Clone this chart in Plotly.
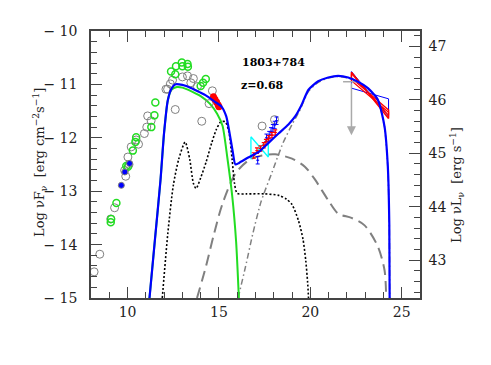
import plotly.graph_objects as go

# ---------------- data ----------------
# total model (blue)
total_x = [11.2, 11.5, 11.8, 12.0, 12.2, 12.4, 12.6, 13.0, 13.5, 13.9, 14.3, 14.8, 15.15, 15.4, 15.6, 15.75, 15.9,
           16.1, 16.6, 17.2, 17.7, 18.26, 18.8, 19.17, 19.5, 19.9, 20.43, 20.98, 21.52, 22.07, 22.61, 23.15, 23.7,
           24.06, 24.24, 24.32, 24.34]
total_y = [-15.0, -13.9, -12.8, -11.9, -11.3, -11.08, -11.0, -11.01, -11.07, -11.14, -11.21, -11.33, -11.42, -11.6,
           -11.95, -12.25, -12.5, -12.47, -12.37, -12.26, -12.1, -11.92, -11.75, -11.6, -11.4, -11.1, -10.94,
           -10.87, -10.84, -10.87, -10.95, -11.07, -11.29, -11.79, -12.54, -13.6, -15.0]

# synchrotron (green)
sync_x = [11.2, 11.5, 11.8, 12.0, 12.2, 12.4, 12.7, 13.0, 13.5, 14.0, 14.5, 14.9, 15.2, 15.45, 15.73, 15.94, 16.09]
sync_y = [-15.0, -13.9, -12.8, -11.9, -11.3, -11.1, -11.05, -11.06, -11.13, -11.22, -11.36, -11.55, -11.78, -12.35,
          -13.1, -13.95, -15.0]

# torus + disk + corona (black dotted)
disk_x = [11.9, 12.2, 12.5, 12.8, 13.15, 13.4, 13.6, 13.75, 14.0, 14.3, 14.6, 14.85, 15.1, 15.35, 15.55, 15.72,
          15.85, 16.0, 16.5, 17.5, 18.3, 18.7, 19.0, 19.35, 19.6, 19.75, 19.85, 19.9]
disk_y = [-15.0, -13.8, -12.9, -12.4, -12.08, -12.4, -12.85, -12.95, -12.75, -12.45, -12.1, -11.85, -11.7, -11.7,
          -11.9, -12.4, -12.85, -13.04, -13.05, -13.05, -13.08, -13.15, -13.25, -13.55, -13.9, -14.3, -14.7, -15.0]

# SSC (grey dashed)
ssc_x = [13.8, 14.28, 14.73, 15.18, 15.9, 16.63, 17.35, 18.08, 19.0, 19.7, 20.25, 20.98, 21.52, 22.25, 22.97,
         23.7, 24.06, 24.15]
ssc_y = [-15.0, -14.42, -13.8, -13.25, -12.67, -12.42, -12.33, -12.31, -12.39, -12.54, -12.78, -13.17, -13.42,
         -13.5, -13.64, -14.04, -14.48, -15.0]

# external Compton (grey dash-dot)
ec_x = [16.05, 16.45, 16.85, 17.3, 17.9, 18.5, 19.0, 19.4, 19.9, 20.43, 20.98, 21.52, 22.07, 22.61, 23.15, 23.7,
        24.06, 24.24, 24.32, 24.34]
ec_y = [-15.0, -14.42, -13.8, -13.2, -12.65, -12.1, -11.75, -11.5, -11.13, -10.96, -10.88, -10.85, -10.88, -10.96,
        -11.08, -11.3, -11.8, -12.55, -13.6, -15.0]

# archival data (grey open circles)
grey_x = [8.17, 8.48, 9.08, 9.29, 9.84, 9.9, 10.02, 10.08, 10.2, 10.47, 10.6, 10.92, 11.05, 11.1, 11.29, 12.1,
          12.19, 12.34, 12.46, 12.61, 13.0, 13.28, 13.46, 13.6, 13.82, 14.06, 14.46, 14.64, 17.36, 18.04]
grey_y = [-14.51, -14.18, -13.52, -13.31, -12.61, -12.72, -12.36, -12.5, -12.17, -12.04, -12.12, -11.92, -11.8,
          -11.59, -11.68, -11.09, -11.09, -10.99, -10.92, -11.47, -10.86, -10.84, -10.97, -10.89, -11.04, -11.69,
          -11.36, -11.12, -11.78, -11.66]

# simultaneous data (green open circles)
green_x = [9.08, 9.1, 9.39, 9.93, 10.02, 10.29, 10.43, 10.47, 11.3, 11.47, 11.52, 12.38, 12.61, 12.65, 12.97,
           13.0, 13.28, 13.3, 14.0, 14.13, 14.28]
green_y = [-13.58, -13.52, -13.22, -12.53, -12.54, -12.24, -12.08, -11.99, -11.8, -11.58, -11.34, -10.76, -10.81,
           -10.66, -10.59, -10.66, -10.62, -10.67, -11.03, -10.97, -10.9]

# filled blue points (radio/mm)
bluept_x = [9.66, 9.85, 10.11]
bluept_y = [-12.89, -12.64, -12.48]

# filled red points (optical/UV)
redpt_x = [14.7, 14.78, 14.87, 15.0, 14.95]
redpt_y = [-11.23, -11.28, -11.33, -11.42, -11.38]

# X-ray spectra (red and blue crosses)
xred_x = [16.9, 17.08, 17.27, 17.45, 17.57, 17.72, 17.9, 18.08]
xred_y = [-12.33, -12.24, -12.2, -12.14, -12.08, -12.01, -11.95, -11.9]
xblue_x = [17.12, 17.6, 17.75, 17.85, 17.95, 18.05, 18.15]
xblue_y = [-12.42, -12.0, -11.95, -11.88, -11.82, -11.76, -11.68]

# X-ray bowtie (cyan)
xbow_x = [16.75, 17.7, 17.7, 16.75, 16.75]
xbow_y = [-11.98, -12.36, -12.0, -12.4, -11.98]

# gamma-ray bowties
gbow_blue_x = [22.25, 24.28, 24.28, 22.25, 22.25]
gbow_blue_y = [-10.76, -11.6, -11.27, -11.07, -10.76]
gbow_red1_x = [22.25, 24.28, 24.28, 22.25, 22.25]
gbow_red1_y = [-10.77, -11.64, -11.48, -10.88, -10.77]
gbow_red2_x = [22.25, 24.28, 24.28, 22.25, 22.25]
gbow_red2_y = [-10.8, -11.58, -11.52, -10.93, -10.8]

# upper limit (grey arrow)
ul_x = [22.25]
ul_y = [-10.95]
ul_arrow_to = -11.95

# axes
x_range = [8, 26]
y_range = [-15, -10]
lum_offset = 57.29
y_ticks = [-15, -14, -13, -12, -11, -10]
y_ticktext = ["\u2212 15", "\u2212 14", "\u2212 13", "\u2212 12", "\u2212 11", "\u2212 10"]
x_ticks = [10, 15, 20, 25]
y2_ticks = [43, 44, 45, 46, 47]

FONT = "DejaVu Serif"
GREY = "#808080"

fig = go.Figure()

# model curves
fig.add_trace(go.Scatter(x=ssc_x, y=ssc_y, mode="lines",
                         line=dict(color=GREY, width=2, dash="11px,6px", shape="spline", smoothing=0.8)))
fig.add_trace(go.Scatter(x=ec_x, y=ec_y, mode="lines",
                         line=dict(color=GREY, width=1.5, dash="6px,3px,1.5px,3px", shape="spline", smoothing=0.6)))
fig.add_trace(go.Scatter(x=disk_x, y=disk_y, mode="lines",
                         line=dict(color="black", width=1.6, dash="2px,2px", shape="spline", smoothing=0.7)))
fig.add_trace(go.Scatter(x=sync_x, y=sync_y, mode="lines",
                         line=dict(color="#22dd22", width=2, shape="spline", smoothing=0.6)))

# data points
fig.add_trace(go.Scatter(x=grey_x, y=grey_y, mode="markers",
                         marker=dict(symbol="circle-open", size=8, color=GREY, line=dict(width=1))))
fig.add_trace(go.Scatter(x=green_x, y=green_y, mode="markers",
                         marker=dict(symbol="circle-open", size=7, color="#22dd22", line=dict(width=1.5))))
fig.add_trace(go.Scatter(x=bluept_x, y=bluept_y, mode="markers",
                         marker=dict(symbol="circle", size=6, color="blue", line=dict(width=1, color=GREY))))
fig.add_trace(go.Scatter(x=redpt_x, y=redpt_y, mode="markers",
                         marker=dict(symbol="circle", size=7, color="red")))

# X-ray
fig.add_trace(go.Scatter(x=xbow_x, y=xbow_y, mode="lines", line=dict(color="cyan", width=1.3)))
fig.add_trace(go.Scatter(x=xblue_x, y=xblue_y, mode="markers",
                         marker=dict(symbol="line-ew", size=1, color="blue", line=dict(width=1, color="blue")),
                         error_x=dict(type="constant", value=0.08, color="blue", thickness=1, width=0),
                         error_y=dict(type="constant", value=0.07, color="blue", thickness=1, width=2)))
fig.add_trace(go.Scatter(x=xred_x, y=xred_y, mode="markers",
                         marker=dict(symbol="line-ew", size=1, color="red", line=dict(width=1, color="red")),
                         error_x=dict(type="constant", value=0.09, color="red", thickness=1.2, width=0),
                         error_y=dict(type="constant", value=0.05, color="red", thickness=1.2, width=2)))

# gamma-ray
fig.add_trace(go.Scatter(x=gbow_blue_x, y=gbow_blue_y, mode="lines", line=dict(color="blue", width=1)))
fig.add_trace(go.Scatter(x=gbow_red1_x, y=gbow_red1_y, mode="lines", line=dict(color="red", width=1.5)))
fig.add_trace(go.Scatter(x=gbow_red2_x, y=gbow_red2_y, mode="lines", line=dict(color="red", width=1.2)))
fig.add_trace(go.Scatter(x=ul_x, y=ul_y, mode="markers",
                         marker=dict(symbol="line-ew", size=12, color="#aaaaaa", line=dict(width=1.5, color="#aaaaaa"))))

# total (blue) on top
fig.add_trace(go.Scatter(x=total_x, y=total_y, mode="lines",
                         line=dict(color="blue", width=2.2, shape="spline", smoothing=0.6)))

# invisible trace for right axis
fig.add_trace(go.Scatter(x=[x_range[0]], y=[y_range[0] + lum_offset], yaxis="y2", mode="markers",
                         marker=dict(opacity=0), hoverinfo="skip"))

# upper-limit arrow
fig.add_annotation(x=ul_x[0], y=ul_arrow_to, ax=ul_x[0], ay=ul_y[0], xref="x", yref="y", axref="x", ayref="y",
                   showarrow=True, arrowhead=2, arrowsize=1.2, arrowwidth=1.5, arrowcolor="#aaaaaa", text="")

# page body has an 8px margin: compensate so the plot lands where the reference has it
PAGE = 8
W, H = 491 - PAGE, 365 - PAGE
L, T = 91 - PAGE, 31 - PAGE
R = W - L - 329
B = H - T - 267
pw, ph = W - L - R, H - T - B


def px_to_paper(px, py):
    return (px - PAGE - L) / pw, 1 - (py - PAGE - T) / ph


ax1, ay1 = px_to_paper(273, 54)
fig.add_annotation(x=ax1, y=ay1, xref="paper", yref="paper", text="<b>1803+784</b>", showarrow=False,
                   font=dict(family=FONT, size=11, color="black"))
ax2, ay2 = px_to_paper(239, 77)
fig.add_annotation(x=ax2, y=ay2, xref="paper", yref="paper", text="<b>z=0.68</b>", showarrow=False,
                   xanchor="left", font=dict(family=FONT, size=11, color="black"))

# axis titles as rotated annotations (precise placement)
tx, ty = px_to_paper(29, 163)
fig.add_annotation(x=tx, y=ty, xref="paper", yref="paper", textangle=-90, showarrow=False,
                   text="Log \u03bdF<sub>\u03bd</sub>  [erg cm<sup>\u22122</sup>s<sup>\u22121</sup>]",
                   font=dict(family=FONT, size=13, color="#222222"))
tx2, ty2 = px_to_paper(468, 185)
fig.add_annotation(x=tx2, y=ty2, xref="paper", yref="paper", textangle=-90, showarrow=False,
                   text="Log \u03bdL<sub>\u03bd</sub>  [erg s<sup>\u22121</sup>]",
                   font=dict(family=FONT, size=13, color="#222222"))

axis_common = dict(showline=True, linecolor="#444444", linewidth=1.5, ticks="inside", tickcolor="#444444",
                   tickwidth=1.2, showgrid=False, zeroline=False, automargin=False,
                   tickfont=dict(family=FONT, size=14, color="#222222"))

fig.update_layout(
    width=W, height=H, margin=dict(l=L, r=R, t=T, b=B, autoexpand=False),
    paper_bgcolor="white", plot_bgcolor="white", showlegend=False,
    xaxis=dict(range=x_range, tickvals=x_ticks, ticklen=11, mirror="ticks",
               minor=dict(dtick=1, ticklen=6, ticks="inside", tickcolor="#444444", tickwidth=1.2),
               **axis_common),
    yaxis=dict(range=y_range, tickvals=y_ticks, ticktext=y_ticktext, ticklen=11, ticklabelstandoff=9,
               minor=dict(dtick=0.2, ticklen=6, ticks="inside", tickcolor="#444444", tickwidth=1.2),
               **axis_common),
    yaxis2=dict(range=[y_range[0] + lum_offset, y_range[1] + lum_offset], overlaying="y", side="right",
                tickvals=y2_ticks, ticklen=11, ticklabelstandoff=4,
                minor=dict(dtick=0.2, ticklen=6, ticks="inside", tickcolor="#444444", tickwidth=1.2),
                **axis_common),
)

fig.write_html("out.html")
